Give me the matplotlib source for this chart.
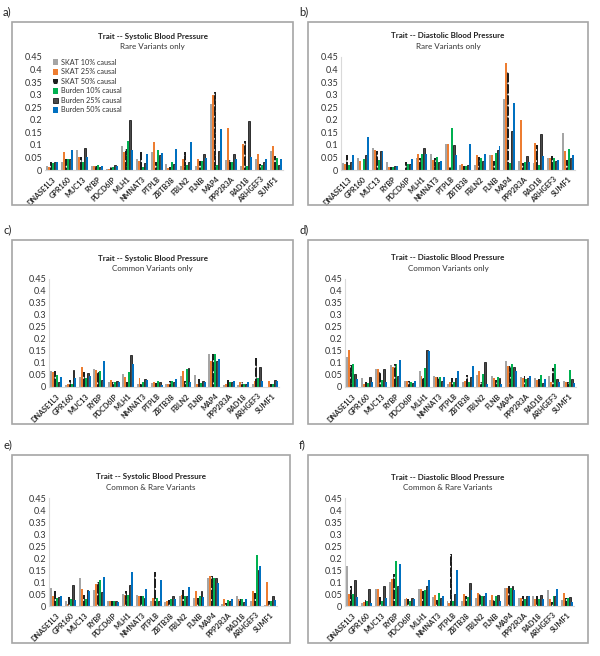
import matplotlib
matplotlib.use("Agg")
import matplotlib.pyplot as plt
import numpy as np
from matplotlib.patches import Rectangle

genes = ["DNASE1L3", "GPR160", "MUC13", "RYBP", "PDCD6IP", "MLH1", "NMNAT3", "PTPLB", "ZBTB38",
         "FBLN2", "FLNB", "MAP4", "PPP2R3A", "RAD18", "ARHGEF3", "SUMF1"]
series = ["SKAT 10% causal", "SKAT 25% causal", "SKAT 50% causal",
          "Burden 10% causal", "Burden 25% causal", "Burden 50% causal"]
yticks = [0, 0.05, 0.1, 0.15, 0.2, 0.25, 0.3, 0.35, 0.4, 0.45]
ytick_labels = ["0", "0.05", "0.1", "0.15", "0.2", "0.25", "0.3", "0.35", "0.4", "0.45"]

# rows: SKAT 10%, SKAT 25%, SKAT 50%, Burden 10%, Burden 25%, Burden 50%
sbp_rare = [
    [0.016, 0.030, 0.080, 0.015, 0.003, 0.097, 0.045, 0.073, 0.022, 0.016, 0.016, 0.264, 0.039, 0.016, 0.044, 0.077],
    [0.010, 0.072, 0.050, 0.015, 0.005, 0.072, 0.035, 0.113, 0.009, 0.043, 0.044, 0.297, 0.168, 0.104, 0.063, 0.097],
    [0.033, 0.045, 0.053, 0.017, 0.010, 0.085, 0.072, 0.030, 0.010, 0.070, 0.036, 0.310, 0.039, 0.116, 0.024, 0.056],
    [0.027, 0.045, 0.033, 0.018, 0.012, 0.115, 0.012, 0.080, 0.032, 0.020, 0.036, 0.021, 0.033, 0.017, 0.020, 0.049],
    [0.030, 0.042, 0.087, 0.010, 0.020, 0.200, 0.027, 0.060, 0.024, 0.030, 0.064, 0.076, 0.064, 0.196, 0.030, 0.020],
    [0.030, 0.080, 0.050, 0.015, 0.015, 0.080, 0.065, 0.067, 0.084, 0.113, 0.049, 0.164, 0.044, 0.053, 0.043, 0.044],
]
dbp_rare = [
    [0.027, 0.049, 0.089, 0.033, 0.000, 0.049, 0.064, 0.104, 0.020, 0.020, 0.059, 0.283, 0.036, 0.029, 0.047, 0.147],
    [0.023, 0.037, 0.080, 0.013, 0.000, 0.063, 0.040, 0.104, 0.024, 0.059, 0.059, 0.427, 0.200, 0.109, 0.049, 0.076],
    [0.060, 0.000, 0.077, 0.013, 0.030, 0.047, 0.047, 0.010, 0.017, 0.051, 0.036, 0.389, 0.027, 0.101, 0.056, 0.041],
    [0.020, 0.044, 0.040, 0.013, 0.024, 0.064, 0.053, 0.169, 0.017, 0.047, 0.069, 0.029, 0.030, 0.020, 0.047, 0.084],
    [0.030, 0.060, 0.077, 0.016, 0.024, 0.087, 0.030, 0.100, 0.020, 0.036, 0.081, 0.156, 0.056, 0.145, 0.036, 0.047],
    [0.058, 0.133, 0.077, 0.017, 0.043, 0.063, 0.037, 0.059, 0.104, 0.064, 0.095, 0.268, 0.033, 0.056, 0.040, 0.060],
]
sbp_common = [
    [0.067, 0.008, 0.040, 0.076, 0.022, 0.056, 0.014, 0.018, 0.012, 0.044, 0.051, 0.138, 0.010, 0.010, 0.011, 0.001],
    [0.063, 0.014, 0.082, 0.071, 0.028, 0.040, 0.036, 0.021, 0.011, 0.067, 0.014, 0.110, 0.014, 0.021, 0.025, 0.026],
    [0.067, 0.028, 0.064, 0.063, 0.022, 0.022, 0.014, 0.017, 0.024, 0.025, 0.032, 0.138, 0.028, 0.021, 0.119, 0.014],
    [0.050, 0.011, 0.037, 0.067, 0.021, 0.061, 0.021, 0.024, 0.025, 0.076, 0.017, 0.138, 0.019, 0.014, 0.037, 0.011],
    [0.022, 0.072, 0.058, 0.028, 0.026, 0.133, 0.032, 0.021, 0.022, 0.079, 0.025, 0.107, 0.022, 0.011, 0.083, 0.030],
    [0.042, 0.036, 0.047, 0.107, 0.022, 0.096, 0.030, 0.010, 0.035, 0.021, 0.022, 0.117, 0.026, 0.021, 0.026, 0.026],
]
dbp_common = [
    [0.125, 0.036, 0.076, 0.090, 0.025, 0.065, 0.044, 0.011, 0.021, 0.051, 0.046, 0.108, 0.042, 0.037, 0.047, 0.025],
    [0.153, 0.011, 0.074, 0.082, 0.025, 0.047, 0.040, 0.021, 0.024, 0.067, 0.037, 0.088, 0.036, 0.029, 0.019, 0.021],
    [0.090, 0.019, 0.064, 0.096, 0.025, 0.037, 0.042, 0.037, 0.050, 0.022, 0.028, 0.089, 0.046, 0.032, 0.079, 0.019],
    [0.096, 0.018, 0.031, 0.096, 0.019, 0.079, 0.040, 0.019, 0.019, 0.054, 0.040, 0.096, 0.033, 0.051, 0.097, 0.072],
    [0.054, 0.040, 0.076, 0.046, 0.015, 0.153, 0.026, 0.037, 0.040, 0.103, 0.037, 0.083, 0.037, 0.015, 0.032, 0.032],
    [0.035, 0.019, 0.021, 0.113, 0.025, 0.149, 0.040, 0.067, 0.086, 0.014, 0.014, 0.067, 0.046, 0.033, 0.019, 0.015],
]
sbp_both = [
    [0.075, 0.022, 0.117, 0.068, 0.021, 0.049, 0.046, 0.021, 0.015, 0.040, 0.035, 0.117, 0.010, 0.040, 0.019, 0.003],
    [0.042, 0.010, 0.071, 0.092, 0.021, 0.044, 0.040, 0.035, 0.022, 0.044, 0.061, 0.124, 0.031, 0.031, 0.061, 0.101],
    [0.061, 0.036, 0.047, 0.101, 0.022, 0.061, 0.040, 0.142, 0.025, 0.065, 0.033, 0.126, 0.014, 0.031, 0.053, 0.022],
    [0.035, 0.031, 0.031, 0.110, 0.021, 0.044, 0.040, 0.035, 0.031, 0.040, 0.040, 0.115, 0.025, 0.031, 0.214, 0.022],
    [0.038, 0.086, 0.067, 0.058, 0.021, 0.088, 0.033, 0.022, 0.042, 0.042, 0.061, 0.117, 0.021, 0.015, 0.151, 0.040],
    [0.040, 0.025, 0.061, 0.121, 0.015, 0.142, 0.071, 0.107, 0.029, 0.081, 0.036, 0.096, 0.031, 0.031, 0.165, 0.025],
]
dbp_both = [
    [0.165, 0.012, 0.069, 0.099, 0.030, 0.069, 0.039, 0.021, 0.019, 0.034, 0.023, 0.074, 0.034, 0.040, 0.066, 0.025],
    [0.048, 0.017, 0.069, 0.114, 0.034, 0.069, 0.044, 0.014, 0.051, 0.054, 0.044, 0.074, 0.034, 0.030, 0.030, 0.055],
    [0.085, 0.026, 0.036, 0.132, 0.030, 0.063, 0.023, 0.215, 0.041, 0.050, 0.025, 0.085, 0.041, 0.041, 0.017, 0.033],
    [0.052, 0.021, 0.021, 0.186, 0.019, 0.066, 0.054, 0.019, 0.039, 0.040, 0.040, 0.074, 0.028, 0.030, 0.040, 0.033],
    [0.107, 0.070, 0.085, 0.085, 0.034, 0.083, 0.034, 0.052, 0.096, 0.040, 0.047, 0.085, 0.041, 0.047, 0.040, 0.036],
    [0.039, 0.014, 0.033, 0.176, 0.029, 0.110, 0.043, 0.150, 0.065, 0.055, 0.021, 0.065, 0.041, 0.030, 0.070, 0.017],
]

plt.rcParams["font.family"] = ["Lato", "DejaVu Sans"]
plt.rcParams["hatch.linewidth"] = 0.6

styles = [
    dict(color="#a5a5a5", linewidth=0),
    dict(color="#ed7d31", linewidth=0),
    dict(facecolor="#1e1e1e", edgecolor="#f2f2f2", hatch="...", linewidth=0),
    dict(color="#00b050", linewidth=0),
    dict(facecolor="#4a4a4a", edgecolor="#000000", linewidth=0.5),
    dict(color="#0070c0", linewidth=0),
]

W, H = 600, 656
fig = plt.figure(figsize=(6, 6.56), dpi=100)


def frac(l, t, r, b):
    return [l / W, 1 - b / H, (r - l) / W, (b - t) / H]


# label, data, trait, subtitle, box (l,t,r,b), axes (l,t,r,b) in pixels
panels = [
    ("a)", sbp_rare, "Trait -- Systolic Blood Pressure", "Rare Variants only", (12, 22, 293, 205), (45, 57, 283, 170)),
    ("b)", dbp_rare, "Trait -- Diastolic Blood Pressure", "Rare Variants only", (308, 22, 588, 205), (341, 57, 575, 170)),
    ("c)", sbp_common, "Trait -- Systolic Blood Pressure", "Common Variants only", (12, 240, 293, 424), (49, 279, 279, 387)),
    ("d)", dbp_common, "Trait -- Diastolic Blood Pressure", "Common Variants only", (308, 240, 588, 424), (345, 279, 576, 387)),
    ("e)", sbp_both, "Trait -- Systolic Blood Pressure", "Common & Rare Variants", (12, 455, 290, 643), (49, 498, 277, 606)),
    ("f)", dbp_both, "Trait -- Diastolic Blood Pressure", "Common & Rare Variants", (308, 455, 588, 643), (345, 498, 574, 606)),
]

x = np.arange(len(genes))
bw = 0.135

for i, (lab, data, title, sub, box, ax_px) in enumerate(panels):
    bl, bt, br, bb = box
    fig.patches.append(Rectangle((bl / W, 1 - bb / H), (br - bl) / W, (bb - bt) / H,
                                 transform=fig.transFigure, fill=False, edgecolor="#a6a6a6", linewidth=1.2))
    fig.text((bl - 9) / W, 1 - (bt - 10) / H, lab, fontsize=8, ha="left", va="center", color="#222222")
    cx = (bl + br) / 2 / W
    fig.text(cx, 1 - (ax_px[1] - 21) / H, title, fontsize=5.8, fontweight="bold", ha="center", va="center", color="#222222")
    fig.text(cx, 1 - (ax_px[1] - 10) / H, sub, fontsize=5.8, ha="center", va="center", color="#333333")

    ax = fig.add_axes(frac(*ax_px))
    for k in range(6):
        ax.bar(x + (k - 2.5) * bw, data[k], bw, label=series[k], **styles[k])
    ax.set_xlim(-0.5, len(genes) - 0.5)
    ax.set_ylim(0, 0.45)
    ax.set_yticks(yticks)
    ax.set_yticklabels(ytick_labels, fontsize=6.5, color="#333333")
    ax.set_xticks(x)
    ax.set_xticklabels(genes, rotation=45, ha="right", rotation_mode="anchor",
                       fontsize=5.2, fontweight="bold", color="#2a2a2a")
    ax.tick_params(length=0, pad=2)
    ax.tick_params(axis="x", pad=4)
    for s in ["top", "right"]:
        ax.spines[s].set_visible(False)
    ax.spines["bottom"].set_color("#d9d9d9")
    ax.spines["left"].set_color("#d9d9d9")
    ax.spines["left"].set_visible(i > 0)
    ax.patch.set_alpha(0)

    if i == 0:
        ax.legend(loc="upper left", bbox_to_anchor=(0.02, 1.01), frameon=False, fontsize=5.2,
                  handlelength=0.8, handleheight=0.8, handletextpad=0.4, labelspacing=0.35,
                  borderaxespad=0, labelcolor="#333333")

fig.savefig("out.png", dpi=100)
